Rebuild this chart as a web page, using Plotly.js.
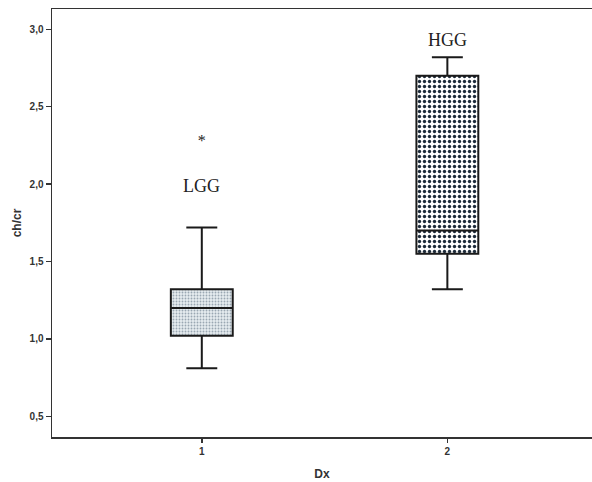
<!DOCTYPE html>
<html>
<head>
<meta charset="utf-8">
<script src="https://cdn.plot.ly/plotly-3.0.1.min.js"></script>
<style>html,body{margin:0;padding:0;background:#fff;}#chart{width:592px;height:482px;}</style>
</head>
<body>
<div id="chart"></div>
<script>
// ---- data ----
const categories = [1, 2];
const groupNames = ['LGG', 'HGG'];
const q1 = [1.02, 1.55];
const median = [1.20, 1.70];
const q3 = [1.32, 2.70];
const lowerWhisker = [0.81, 1.32];
const upperWhisker = [1.72, 2.82];
const outlierX = [1];
const outlierY = [2.27];
const labelY = [1.99, 2.93];
const yTicks = [0.5, 1.0, 1.5, 2.0, 2.5, 3.0];
const xTickText = ['1', '2'];

// ---- styles ----
const boxWidth = 0.252;
const patterns = [
  {shape: '.', bgcolor: '#e6ecf0', fgcolor: '#9aa7b2', size: 3, solidity: 0.3},
  {shape: '.', bgcolor: '#ffffff', fgcolor: '#1d2b3a', size: 5, solidity: 0.36}
];

const traces = [];
categories.forEach((c, i) => {
  traces.push({
    type: 'bar',
    x: [c],
    base: [q1[i]],
    y: [q3[i] - q1[i]],
    width: boxWidth,
    marker: {color: patterns[i].bgcolor, pattern: patterns[i], line: {width: 0}},
    hoverinfo: 'skip',
    showlegend: false
  });
});
traces.push({
  type: 'box',
  x: categories,
  q1: q1,
  median: median,
  q3: q3,
  lowerfence: lowerWhisker,
  upperfence: upperWhisker,
  width: boxWidth,
  whiskerwidth: 0.5,
  fillcolor: 'rgba(0,0,0,0)',
  line: {color: '#1a1a1a', width: 2},
  showlegend: false
});
traces.push({
  type: 'scatter',
  mode: 'text',
  x: outlierX,
  y: outlierY,
  text: outlierX.map(() => '*'),
  textposition: 'middle center',
  textfont: {family: 'Liberation Serif, serif', size: 16, color: '#222'},
  showlegend: false,
  hoverinfo: 'skip'
});

const annotations = categories.map((c, i) => ({
  x: c, y: labelY[i], xref: 'x', yref: 'y',
  text: groupNames[i], showarrow: false,
  font: {family: 'Liberation Serif, serif', size: 18, color: '#222'},
  xanchor: 'center', yanchor: 'middle'
}));

const tickFont = {family: 'Liberation Sans, Arial, sans-serif', size: 10, weight: 'bold', color: '#333'};
const titleFont = {family: 'Liberation Sans, Arial, sans-serif', size: 12, weight: 'bold', color: '#333'};

const layout = {
  width: 592, height: 482,
  margin: {l: 52, r: 0, t: 9, b: 45},
  paper_bgcolor: '#fff', plot_bgcolor: '#fff',
  separators: ',.',
  barmode: 'overlay',
  showlegend: false,
  xaxis: {
    range: [0.39, 2.589],
    tickvals: categories, ticktext: xTickText,
    ticks: 'outside', ticklen: 4, tickwidth: 1.5, tickcolor: '#333',
    showline: true, linecolor: '#333', linewidth: 1.5, mirror: true,
    showgrid: false, zeroline: false,
    tickfont: tickFont,
    title: {text: 'Dx', font: titleFont, standoff: 14},
    automargin: false
  },
  yaxis: {
    range: [0.366, 3.131],
    tickvals: yTicks, tickformat: '.1f',
    ticks: 'outside', ticklen: 5, tickwidth: 1.5, tickcolor: '#333',
    showline: true, linecolor: '#333', linewidth: 1.5, mirror: false,
    showgrid: false, zeroline: false,
    tickfont: tickFont,
    title: {text: 'ch/cr', font: titleFont, standoff: 5},
    automargin: false
  },
  annotations: annotations
};

Plotly.newPlot('chart', traces, layout, {displayModeBar: false, staticPlot: true});
</script>
</body>
</html>
